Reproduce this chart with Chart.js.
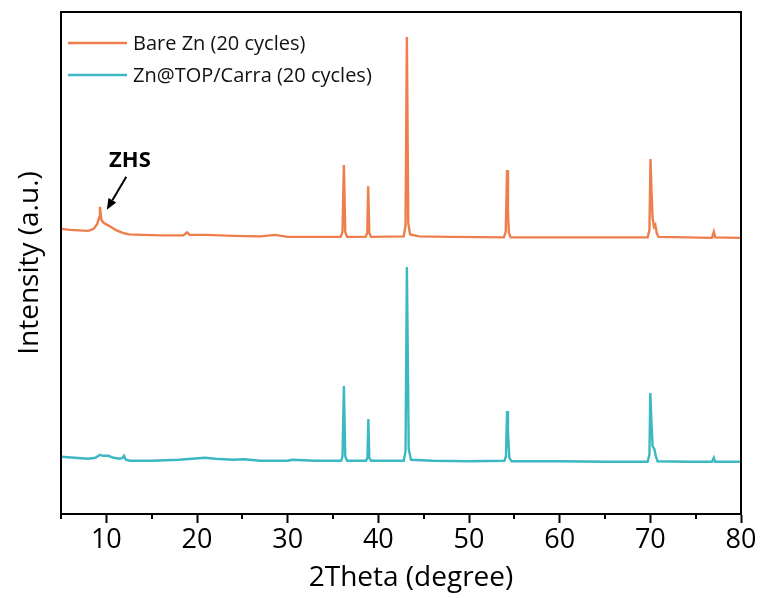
<!DOCTYPE html>
<html>
<head>
<meta charset="utf-8">
<script src="https://cdn.jsdelivr.net/npm/chart.js@4/dist/chart.umd.min.js"></script>
<style>
  html, body { margin: 0; padding: 0; background: #ffffff; }
  canvas { display: block; }
</style>
</head>
<body>
<canvas id="xrd" width="762" height="598"></canvas>
<script>
// XRD patterns (2θ in degrees, intensity in arbitrary units, curves stacked)
const seriesLabels = ['Bare Zn (20 cycles)', 'Zn@TOP/Carra (20 cycles)'];
const seriesColors = ['#EE7E4B', '#3BB8C1'];

const thetaBare = [5.0, 6.0, 7.0, 8.0, 8.6, 9.0, 9.2, 9.3, 9.45, 9.7, 10.3, 11.0, 11.8, 12.5, 14.0, 16.0,
  18.5, 18.9, 19.2, 21.0, 24.0, 27.0, 28.6, 30.0, 33.0, 35.85, 36.05, 36.2, 36.35, 36.55, 38.6, 38.78,
  38.88, 39.0, 39.2, 42.8, 43.0, 43.15, 43.3, 43.5, 44.5, 48.0, 53.85, 54.05, 54.2, 54.3, 54.4, 54.6,
  60.0, 65.0, 69.7, 69.9, 70.02, 70.12, 70.25, 70.4, 70.55, 70.7, 70.9, 74.0, 76.8, 77.0, 77.15, 80.0];
const intensityBare = [568, 566, 565, 564, 568, 578, 590, 612, 586, 580, 574, 566, 560, 557, 556, 555,
  555, 561, 556, 556, 554, 553, 556, 552, 552, 552, 562, 695, 562, 552, 552, 560,
  653, 560, 552, 553, 575, 950, 580, 557, 553, 552, 551, 562, 685, 600, 560, 551,
  551, 551, 551, 565, 707, 645, 590, 572, 576, 560, 552, 551, 550, 562, 551, 550];

const thetaCoated = [5.0, 6.5, 8.0, 8.8, 9.3, 9.6, 10.2, 10.8, 11.5, 11.8, 11.95, 12.15, 12.6, 15.0, 18.0,
  20.9, 22.0, 24.0, 25.2, 27.0, 30.0, 30.5, 33.0, 35.9, 36.05, 36.2, 36.35, 36.55, 38.65, 38.8, 38.9,
  39.0, 39.2, 42.8, 43.0, 43.15, 43.25, 43.35, 43.6, 46.0, 50.0, 53.9, 54.08, 54.2, 54.3, 54.45, 54.7,
  60.0, 65.0, 69.7, 69.9, 70.0, 70.12, 70.25, 70.45, 70.6, 70.8, 74.0, 76.8, 77.0, 77.15, 80.0];
const intensityCoated = [114, 112, 110, 112, 118, 116, 116, 112, 110, 112, 116, 108, 106, 106, 108,
  112, 110, 108, 109, 106, 106, 108, 106, 106, 115, 255, 115, 106, 106, 112, 189,
  112, 106, 106, 125, 492, 311, 130, 108, 106, 105, 106, 115, 205, 163, 112, 105,
  105, 104, 104, 118, 241, 183, 135, 129, 115, 105, 104, 104, 112, 104, 104];

const majorTicks = [10, 20, 30, 40, 50, 60, 70, 80];
const minorTicks = [5, 15, 25, 35, 45, 55, 65, 75];

// ZHS marker: label anchor, arrow tail and arrow tip (2θ, intensity)
const zhsLabel = 'ZHS';
const zhsText = [12.6, 703];
const zhsArrowTail = [12.2, 672];
const zhsArrowTip = [10.05, 606];

const xTitle = '2Theta (degree)';
const yTitle = 'Intensity (a.u.)';
const FONT = '"Open Sans", "DejaVu Sans", sans-serif';

const toPoints = (xs, ys) => xs.map((x, i) => ({ x: x, y: ys[i] }));

const decorPlugin = {
  id: 'decor',
  afterDraw(chart) {
    const { ctx, chartArea: a, scales: { x, y } } = chart;
    ctx.save();

    // plot frame
    ctx.strokeStyle = '#000';
    ctx.lineWidth = 2;
    ctx.strokeRect(a.left, a.top, a.right - a.left, a.bottom - a.top);

    // minor ticks
    ctx.beginPath();
    minorTicks.forEach(v => {
      const px = Math.round(x.getPixelForValue(v));
      ctx.moveTo(px, a.bottom);
      ctx.lineTo(px, a.bottom + 5);
    });
    ctx.stroke();

    // legend
    ctx.font = '20px ' + FONT;
    ctx.textBaseline = 'middle';
    ctx.textAlign = 'left';
    chart.data.datasets.forEach((ds, i) => {
      const ly = a.top + 31 + i * 32;
      ctx.strokeStyle = ds.borderColor;
      ctx.lineWidth = 2.5;
      ctx.beginPath();
      ctx.moveTo(a.left + 7, ly);
      ctx.lineTo(a.left + 66, ly);
      ctx.stroke();
      ctx.fillStyle = '#111';
      ctx.fillText(ds.label, a.left + 72, ly + 1);
    });

    // ZHS annotation
    ctx.fillStyle = '#000';
    ctx.font = 'bold 22px ' + FONT;
    ctx.textAlign = 'center';
    ctx.fillText(zhsLabel, x.getPixelForValue(zhsText[0]), y.getPixelForValue(zhsText[1]));
    const tx = x.getPixelForValue(zhsArrowTail[0]), ty = y.getPixelForValue(zhsArrowTail[1]);
    const hx = x.getPixelForValue(zhsArrowTip[0]), hy = y.getPixelForValue(zhsArrowTip[1]);
    const ang = Math.atan2(hy - ty, hx - tx);
    const headLen = 11, headW = 4.5;
    const bx = hx - headLen * Math.cos(ang), by = hy - headLen * Math.sin(ang);
    ctx.strokeStyle = '#000';
    ctx.lineWidth = 2;
    ctx.beginPath();
    ctx.moveTo(tx, ty);
    ctx.lineTo(bx, by);
    ctx.stroke();
    ctx.beginPath();
    ctx.moveTo(hx, hy);
    ctx.lineTo(bx + headW * Math.sin(ang), by - headW * Math.cos(ang));
    ctx.lineTo(bx - headW * Math.sin(ang), by + headW * Math.cos(ang));
    ctx.closePath();
    ctx.fill();

    // axis titles
    ctx.font = '28px ' + FONT;
    ctx.fillStyle = '#000';
    ctx.textAlign = 'center';
    ctx.textBaseline = 'middle';
    ctx.fillText(xTitle, (a.left + a.right) / 2 + 10, 578);
    ctx.save();
    ctx.translate(30, (a.top + a.bottom) / 2);
    ctx.rotate(-Math.PI / 2);
    ctx.fillText(yTitle, 0, 0);
    ctx.restore();

    ctx.restore();
  }
};

new Chart(document.getElementById('xrd'), {
  type: 'line',
  data: {
    datasets: [
      { label: seriesLabels[0], data: toPoints(thetaBare, intensityBare), borderColor: seriesColors[0],
        borderWidth: 2.4, pointRadius: 0, tension: 0, fill: false },
      { label: seriesLabels[1], data: toPoints(thetaCoated, intensityCoated), borderColor: seriesColors[1],
        borderWidth: 2.4, pointRadius: 0, tension: 0, fill: false }
    ]
  },
  options: {
    responsive: false,
    animation: false,
    layout: { padding: { top: 12, right: 21, left: 0, bottom: 0 } },
    plugins: { legend: { display: false }, tooltip: { enabled: false } },
    scales: {
      x: {
        type: 'linear', min: 5, max: 80,
        afterBuildTicks: s => { s.ticks = majorTicks.map(v => ({ value: v })); },
        afterFit: s => { s.height = 84; },
        grid: { drawOnChartArea: false, drawTicks: true, tickLength: 9, tickWidth: 2, tickColor: '#000' },
        border: { display: true, color: '#000', width: 2 },
        ticks: { font: { family: FONT, size: 27 }, color: '#000', padding: 1, maxRotation: 0, autoSkip: false }
      },
      y: {
        min: 0, max: 1000,
        afterFit: s => { s.width = 61; },
        ticks: { display: false },
        grid: { display: false },
        border: { display: false }
      }
    }
  },
  plugins: [decorPlugin]
});
</script>
</body>
</html>
